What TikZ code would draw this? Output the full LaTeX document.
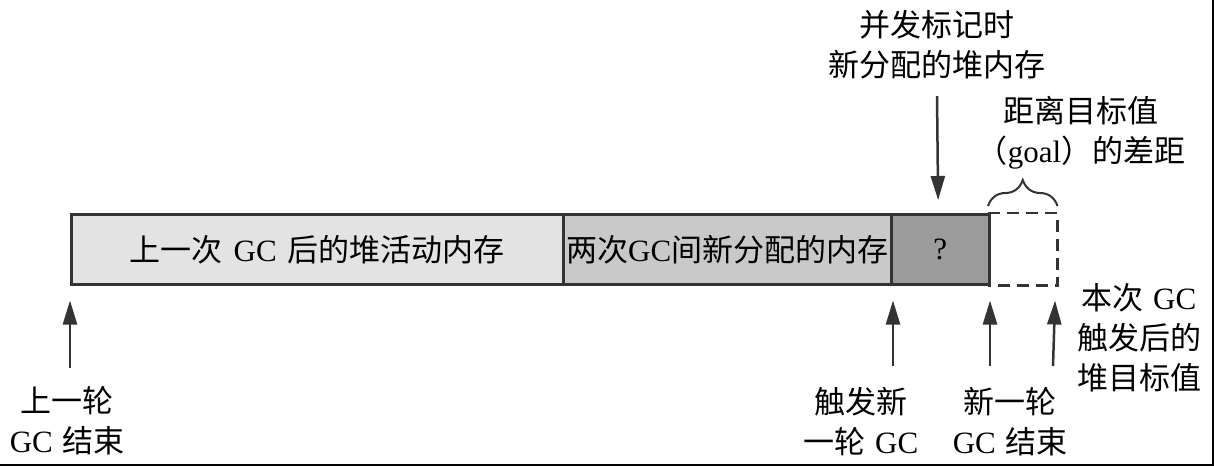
\documentclass[tikz,border=0pt]{standalone}
\usepackage{fontspec}
\setmainfont{Liberation Serif}
\newfontfamily\cjk{Noto Sans CJK SC}
\newcommand\latn[1]{{\rmfamily #1}}
\usetikzlibrary{arrows.meta,decorations.pathreplacing}
\definecolor{cone}{HTML}{E3E3E3}
\definecolor{ctwo}{HTML}{C9C9C9}
\definecolor{cthree}{HTML}{9B9B9B}
\definecolor{lncol}{HTML}{333333}
\begin{document}
\begin{tikzpicture}[x=1pt,y=-1pt,
  seg/.style={draw=lncol, line width=2.5pt, minimum height=70pt, anchor=north west, inner sep=0pt,
              font=\cjk\fontsize{31}{36}\selectfont},
  lbl/.style={align=center, font=\cjk\fontsize{31}{40}\selectfont, inner sep=0pt},
  arr/.style={line width=2.5pt, draw=lncol, -{Triangle[length=24pt,width=14pt]}},
  dashbox/.style={draw=lncol, line width=2.5pt, dash pattern=on 12pt off 7pt},
]
\useasboundingbox (0,0) rectangle (1214,466);
% segments
\node[seg, fill=cone, minimum width=492pt] (b1) at (70,213) {上一次\hspace{0.35em}\latn{GC}\hspace{0.35em}后的堆活动内存};
\node[seg, fill=ctwo, minimum width=328pt] (b2) at (562,213) {两次\latn{GC}间新分配的内存};
\node[seg, fill=cthree, minimum width=98pt] (b3) at (890,213) {\latn{?}};
\node[seg, draw=none, minimum width=67pt] (b4) at (988,213) {};
\draw[dashbox] (b4.north west) -- (b4.north east) -- (b4.south east) -- (b4.south west);
% brace
\draw[draw=lncol, line width=2pt, decorate, decoration={brace, amplitude=26pt, aspect=0.5}]
  ([yshift=7pt]b4.north west) -- ([yshift=7pt]b4.north east);
% labels
\node[lbl] (t1) at (67,421) {上一轮\\\latn{GC}\hspace{0.3em}结束};
\node[lbl] (t2) at (861,422) {触发新\\一轮\hspace{0.3em}\latn{GC}};
\node[lbl] (t3) at (1010,422) {新一轮\\\latn{GC}\hspace{0.3em}结束};
\node[lbl] (t4) at (1139,338) {本次\hspace{0.3em}\latn{GC}\\触发后的\\堆目标值};
\node[lbl] (t5) at (937,45) {并发标记时\\新分配的堆内存};
\node[lbl] (t6) at (1081,133) {距离目标值\\（\latn{goal}）的差距};
% arrow start points
\coordinate (s1) at (70,368);
\coordinate (s2) at (893,366);
\coordinate (s3) at (990,366);
\coordinate (s4) at (1053,366);
\coordinate (s5) at (937,96);
% arrows
\draw[arr, shorten >=15pt] (s1) -- (b1.south west);
\draw[arr, shorten >=15pt] (s2) -- ([xshift=3pt]b3.south west);
\draw[arr, shorten >=15pt] (s3) -- ([xshift=2pt]b4.south west);
\draw[arr, shorten >=15pt] (s4) -- ([xshift=-2pt]b4.south east);
\draw[arr, shorten >=13pt] (s5) -- ([xshift=-2pt]b3.north);
% frame edges
\draw[line width=2pt] (0,465) -- (1213,465) -- (1213,0);
\end{tikzpicture}
\end{document}
